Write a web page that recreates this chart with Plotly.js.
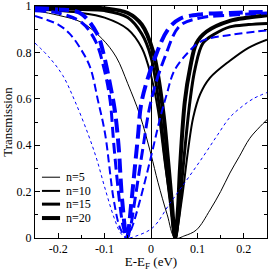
<!DOCTYPE html>
<html>
<head>
<meta charset="utf-8">
<script src="https://cdn.plot.ly/plotly-3.0.1.min.js"></script>
<style>html,body{margin:0;padding:0;background:#fff;}#chart{width:269px;height:271px;}</style>
</head>
<body>
<div id="chart"></div>
<script>
// ---- data ----
const legendLabels = ["n=5", "n=10", "n=15", "n=20"];

const blackE5  = [-0.25,-0.2,-0.15,-0.106,-0.075,-0.05,-0.024,0,0.015,0.035,0.052,0.073,0.098,0.127,0.15,0.17,0.19,0.213,0.235,0.25];
const blackT5  = [0.98,0.96,0.93,0.86,0.78,0.665,0.53,0.36,0.24,0.1,0,0.01,0.035,0.12,0.2,0.28,0.35,0.43,0.48,0.51];
const blackE10 = [-0.25,-0.15,-0.1,-0.05,-0.02,0,0.015,0.03,0.042,0.052,0.066,0.08,0.091,0.106,0.127,0.17,0.21,0.25];
const blackT10 = [0.985,0.97,0.95,0.9,0.82,0.7,0.55,0.32,0.15,0,0.16,0.38,0.52,0.62,0.69,0.764,0.82,0.855];
const blackE15 = [-0.25,-0.15,-0.1,-0.05,-0.02,0,0.019,0.03,0.042,0.052,0.06,0.069,0.084,0.095,0.112,0.138,0.17,0.21,0.25];
const blackT15 = [0.99,0.985,0.98,0.95,0.88,0.78,0.55,0.35,0.15,0,0.1,0.3,0.59,0.73,0.84,0.88,0.91,0.92,0.925];
const blackE20 = [-0.25,-0.15,-0.1,-0.05,-0.02,0.005,0.026,0.036,0.045,0.052,0.058,0.0625,0.073,0.084,0.098,0.12,0.17,0.21,0.25];
const blackT20 = [0.995,0.993,0.99,0.97,0.92,0.8,0.55,0.35,0.15,0,0.12,0.3,0.59,0.73,0.84,0.89,0.936,0.95,0.96];

const blueE5  = [-0.25,-0.22,-0.19,-0.164,-0.136,-0.117,-0.1,-0.08,-0.065,-0.052,-0.03,0.004,0.041,0.077,0.112,0.142,0.17,0.192,0.22,0.25];
const blueT5  = [0.84,0.78,0.7,0.59,0.45,0.34,0.22,0.09,0.02,0,0.01,0.045,0.15,0.25,0.35,0.44,0.52,0.56,0.6,0.627];
const blueE10 = [-0.25,-0.2,-0.175,-0.15,-0.131,-0.114,-0.099,-0.08,-0.066,-0.052,-0.042,-0.024,0,0.02,0.034,0.05,0.08,0.11,0.17,0.25];
const blueT10 = [0.957,0.92,0.88,0.81,0.735,0.59,0.45,0.16,0.04,0,0.04,0.16,0.35,0.52,0.62,0.72,0.8,0.85,0.875,0.895];
const blueE15 = [-0.25,-0.2,-0.15,-0.12,-0.1,-0.088,-0.08,-0.068,-0.06,-0.052,-0.044,-0.035,-0.018,0,0.03,0.0625,0.11,0.17,0.25];
const blueT15 = [0.98,0.97,0.93,0.85,0.72,0.59,0.4,0.16,0.05,0,0.05,0.16,0.38,0.59,0.78,0.915,0.95,0.96,0.97];
const blueE20 = [-0.25,-0.2,-0.153,-0.116,-0.103,-0.088,-0.078,-0.07,-0.062,-0.052,-0.042,-0.035,-0.028,-0.02,0.009,0.037,0.0625,0.11,0.17,0.25];
const blueT20 = [0.99,0.985,0.97,0.88,0.8,0.66,0.55,0.4,0.16,0,0.16,0.3,0.44,0.59,0.78,0.9,0.945,0.965,0.97,0.975];

const xTickVals = [-0.2,-0.1,0,0.1,0.2];
const xTickText = ["-0.2","-0.1","0","0.1","0.2"];
const yTickVals = [0,0.2,0.4,0.6,0.8,1];
const yTickText = ["0","0.2","0.4","0.6","0.8","1"];

// ---- styles ----
const widths = [1, 2, 3, 4];
const blueDash = ["3px,3px", "8px,4px", "11px,5px", "14px,6px"];
const blackSets = [[blackE5,blackT5],[blackE10,blackT10],[blackE15,blackT15],[blackE20,blackT20]];
const blueSets  = [[blueE5,blueT5],[blueE10,blueT10],[blueE15,blueT15],[blueE20,blueT20]];

const traces = [];
blackSets.forEach((s,i)=>traces.push({x:s[0],y:s[1],mode:'lines',name:legendLabels[i],
  line:{color:'#000',width:widths[i],shape:'spline',smoothing:1},showlegend:false,hoverinfo:'skip'}));
blueSets.forEach((s,i)=>traces.push({x:s[0],y:s[1],mode:'lines',name:legendLabels[i]+' blue',
  line:{color:'#0000ff',width:widths[i],dash:blueDash[i],shape:'spline',smoothing:1},showlegend:false,hoverinfo:'skip'}));

const FAM = 'Liberation Serif, Times New Roman, serif';
const font = {family:FAM, size:12, color:'#000'};

// custom legend (lines + labels in paper coordinates)
const shapes = [], annotations = [];
const legY = [0.262, 0.203, 0.146, 0.086];
legendLabels.forEach((lab,i)=>{
  shapes.push({type:'line',xref:'paper',yref:'paper',x0:0.03,x1:0.108,y0:legY[i],y1:legY[i],
    line:{color:'#000',width:widths[i]}});
  annotations.push({xref:'paper',yref:'paper',x:0.125,y:legY[i],text:lab,showarrow:false,
    xanchor:'left',yanchor:'middle',font:{family:FAM,size:12,color:'#000'}});
});

const layout = {
  width:269, height:271,
  margin:{l:35,r:2,t:6,b:33},
  paper_bgcolor:'#fff', plot_bgcolor:'#fff',
  font:font,
  showlegend:false,
  xaxis:{range:[-0.25,0.25],tickvals:xTickVals,ticktext:xTickText,ticks:'inside',ticklen:5,tickwidth:1,
    tickcolor:'#000',showline:true,linecolor:'#000',linewidth:1,mirror:'ticks',showgrid:false,
    zeroline:true,zerolinecolor:'#000',zerolinewidth:1,ticklabeloverflow:'allow',
    minor:{dtick:0.05,tick0:0,ticks:'inside',ticklen:3,tickcolor:'#000',showgrid:false},
    title:{text:'E-E<sub>F</sub> (eV)',font:{family:FAM,size:13,color:'#000'},standoff:0},
    tickfont:{family:FAM,size:12,color:'#000'}},
  yaxis:{range:[0,1],tickvals:yTickVals,ticktext:yTickText,ticks:'inside',ticklen:5,tickwidth:1,
    tickcolor:'#000',showline:true,linecolor:'#000',linewidth:1,mirror:'ticks',showgrid:false,zeroline:false,
    ticklabeloverflow:'allow',
    minor:{dtick:0.1,tick0:0,ticks:'inside',ticklen:3,tickcolor:'#000',showgrid:false},
    title:{text:'Transmission',font:{family:FAM,size:13,color:'#000'},standoff:2},
    tickfont:{family:FAM,size:12,color:'#000'}},
  shapes:shapes, annotations:annotations
};

Plotly.newPlot('chart', traces, layout, {staticPlot:true, displayModeBar:false});
</script>
</body>
</html>
